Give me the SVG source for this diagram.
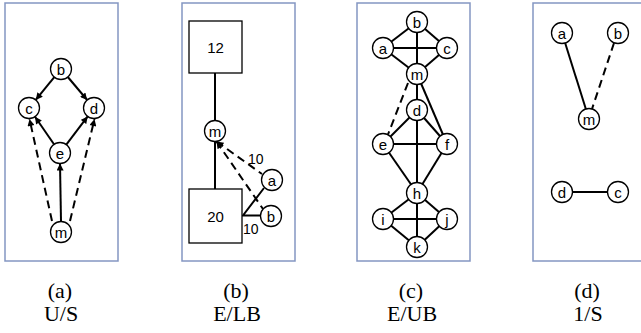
<svg xmlns="http://www.w3.org/2000/svg" width="641" height="333" viewBox="0 0 641 333">
<style>
.panel{fill:#fff;stroke:#8496c2;stroke-width:1.5}
.n circle{fill:#fff;stroke:#000;stroke-width:1.3}
.n text{font-family:"Liberation Sans",Arial,sans-serif;font-size:15px;text-anchor:middle;fill:#000}
.box rect{fill:#fff;stroke:#000;stroke-width:1.3}
.box text{font-family:"Liberation Sans",Arial,sans-serif;font-size:15px;text-anchor:middle}
.e{stroke:#000;stroke-width:2;fill:none}
.d{stroke-dasharray:8,5}
.a{marker-end:url(#arr)}
.as{marker-start:url(#arr)}
.lbl{font-family:"Liberation Sans",Arial,sans-serif;font-size:14px}
.cap{font-family:"Liberation Serif","Times New Roman",serif;font-size:22px;text-anchor:middle}
</style>
<defs>
<marker id="arr" viewBox="0 0 10 10" refX="10" refY="5" markerWidth="8" markerHeight="7" markerUnits="userSpaceOnUse" orient="auto-start-reverse"><path d="M0,0 L10,5 L0,10 z" fill="#000"/></marker>
</defs>
<rect width="641" height="333" fill="#fff"/>
<g id="panels">
<rect class="panel" x="5" y="3" width="113" height="258"/>
<rect class="panel" x="182" y="3" width="113" height="258"/>
<rect class="panel" x="357" y="3" width="113" height="258"/>
<rect class="panel" x="533" y="3" width="113" height="258"/>
</g>
<g id="connectors">
<line class="e a" x1="54.3" y1="77.1" x2="35.7" y2="99.9"/>
<line class="e a" x1="67.8" y1="77" x2="87.2" y2="100"/>
<line class="e a" x1="54" y1="144.3" x2="35" y2="116.7"/>
<line class="e a" x1="66.3" y1="144.6" x2="87.7" y2="116.4"/>
<line class="e a" x1="61" y1="221.5" x2="60" y2="163.5"/>
<line class="e d a" x1="52" y1="221" x2="29.5" y2="119"/>
<line class="e d a" x1="70" y1="221" x2="94.5" y2="119"/>
<line class="e" x1="215" y1="73" x2="215" y2="120.5"/>
<line class="e" x1="215" y1="141.5" x2="215" y2="189"/>
<line class="e d as" x1="216.5" y1="141.5" x2="262" y2="174"/>
<line class="e d as" x1="216.5" y1="141.5" x2="263" y2="209"/>
<polyline class="e" points="264,188 243,215.5 261,215.5"/>
<line class="e" x1="417" y1="22" x2="383" y2="48"/>
<line class="e" x1="417" y1="22" x2="447" y2="48"/>
<line class="e" x1="383" y1="48" x2="447" y2="48"/>
<line class="e" x1="417" y1="22" x2="417" y2="74"/>
<line class="e" x1="383" y1="48" x2="417" y2="74"/>
<line class="e" x1="447" y1="48" x2="417" y2="74"/>
<line class="e" x1="417" y1="74" x2="417" y2="110"/>
<line class="e" x1="417" y1="74" x2="447" y2="144"/>
<line class="e d" x1="408" y1="83" x2="388" y2="134.5"/>
<line class="e" x1="417" y1="110" x2="383" y2="144"/>
<line class="e" x1="417" y1="110" x2="447" y2="144"/>
<line class="e" x1="383" y1="144" x2="447" y2="144"/>
<line class="e" x1="417" y1="110" x2="417" y2="193"/>
<line class="e" x1="383" y1="144" x2="417" y2="193"/>
<line class="e" x1="447" y1="144" x2="417" y2="193"/>
<line class="e" x1="417" y1="193" x2="383" y2="219"/>
<line class="e" x1="417" y1="193" x2="447" y2="219"/>
<line class="e" x1="383" y1="219" x2="447" y2="219"/>
<line class="e" x1="417" y1="193" x2="417" y2="247"/>
<line class="e" x1="383" y1="219" x2="417" y2="247"/>
<line class="e" x1="447" y1="219" x2="417" y2="247"/>
<line class="e" x1="562" y1="33" x2="589" y2="119"/>
<line class="e d" x1="614" y1="43" x2="592" y2="109"/>
<line class="e" x1="562" y1="192" x2="618" y2="192"/>
</g>
<g id="a-b" class="n"><circle cx="61" cy="69" r="10.5"/><text x="61" y="74.5">b</text></g>
<g id="a-c" class="n"><circle cx="29" cy="108" r="10.5"/><text x="29" y="113.5">c</text></g>
<g id="a-d" class="n"><circle cx="94" cy="108" r="10.5"/><text x="94" y="113.5">d</text></g>
<g id="a-e" class="n"><circle cx="60" cy="153" r="10.5"/><text x="60" y="158.5">e</text></g>
<g id="a-m" class="n"><circle cx="61" cy="232" r="10.5"/><text x="61" y="237.5">m</text></g>

<g id="b-12" class="box"><rect x="189" y="21" width="53" height="52"/><text x="215.5" y="52.5">12</text></g>
<g id="b-20" class="box"><rect x="189" y="189" width="53" height="54"/><text x="215.5" y="221.5">20</text></g>
<g id="b-m" class="n"><circle cx="215" cy="131" r="10.5"/><text x="215" y="136.5">m</text></g>
<g id="b-a" class="n"><circle cx="272" cy="180" r="10.5"/><text x="272" y="185.5">a</text></g>
<g id="b-b" class="n"><circle cx="271" cy="216" r="10.5"/><text x="271" y="221.5">b</text></g>
<text class="lbl" x="248" y="164">10</text>
<text class="lbl" x="243" y="234">10</text>

<g id="c-b" class="n"><circle cx="417" cy="22" r="10.5"/><text x="417" y="27.5">b</text></g>
<g id="c-a" class="n"><circle cx="383" cy="48" r="10.5"/><text x="383" y="53.5">a</text></g>
<g id="c-c" class="n"><circle cx="447" cy="48" r="10.5"/><text x="447" y="53.5">c</text></g>
<g id="c-m" class="n"><circle cx="417" cy="74" r="10.5"/><text x="417" y="79.5">m</text></g>
<g id="c-d" class="n"><circle cx="417" cy="110" r="10.5"/><text x="417" y="115.5">d</text></g>
<g id="c-e" class="n"><circle cx="383" cy="144" r="10.5"/><text x="383" y="149.5">e</text></g>
<g id="c-f" class="n"><circle cx="447" cy="144" r="10.5"/><text x="447" y="149.5">f</text></g>
<g id="c-h" class="n"><circle cx="417" cy="193" r="10.5"/><text x="417" y="198.5">h</text></g>
<g id="c-i" class="n"><circle cx="383" cy="219" r="10.5"/><text x="383" y="224.5">i</text></g>
<g id="c-j" class="n"><circle cx="447" cy="219" r="10.5"/><text x="447" y="224.5">j</text></g>
<g id="c-k" class="n"><circle cx="417" cy="247" r="10.5"/><text x="417" y="252.5">k</text></g>

<g id="d-a" class="n"><circle cx="562" cy="33" r="10.5"/><text x="562" y="38.5">a</text></g>
<g id="d-b" class="n"><circle cx="618" cy="33" r="10.5"/><text x="618" y="38.5">b</text></g>
<g id="d-m" class="n"><circle cx="589" cy="119" r="10.5"/><text x="589" y="124.5">m</text></g>
<g id="d-d" class="n"><circle cx="562" cy="192" r="10.5"/><text x="562" y="197.5">d</text></g>
<g id="d-c" class="n"><circle cx="618" cy="192" r="10.5"/><text x="618" y="197.5">c</text></g>

<g id="captions">
<text class="cap" x="60" y="298">(a)</text><text class="cap" x="61" y="321">U/S</text>
<text class="cap" x="236" y="298">(b)</text><text class="cap" x="237" y="321">E/LB</text>
<text class="cap" x="411" y="298">(c)</text><text class="cap" x="412" y="321">E/UB</text>
<text class="cap" x="587" y="298">(d)</text><text class="cap" x="588" y="321">1/S</text>
</g>
</svg>
